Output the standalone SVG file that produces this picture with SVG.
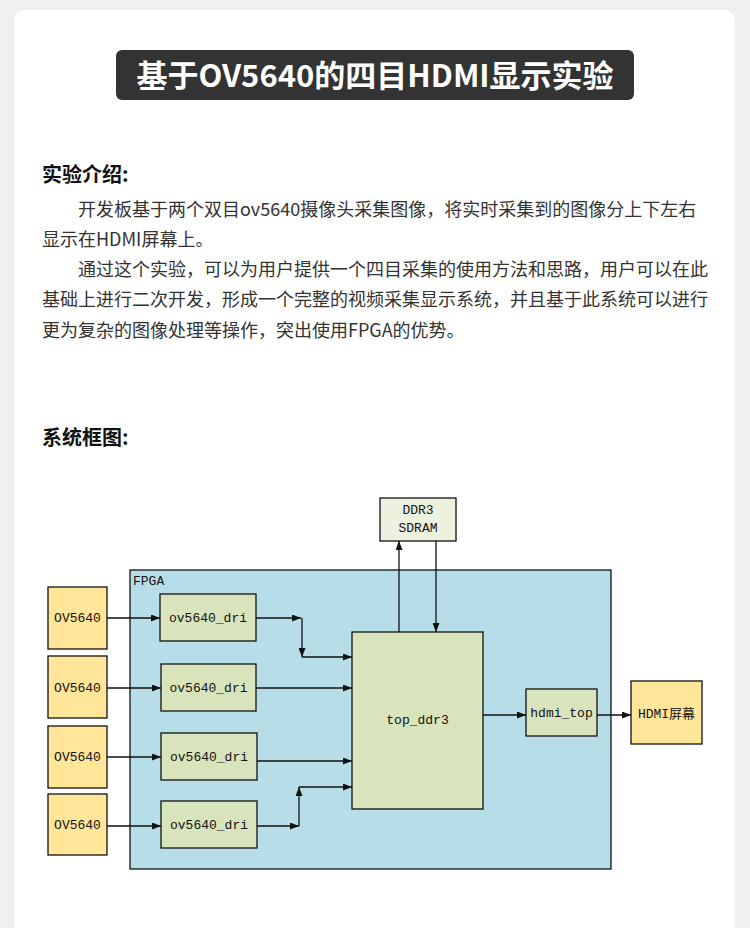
<svg xmlns="http://www.w3.org/2000/svg" width="750" height="928" viewBox="0 0 750 928">
<style>
.t{font-family:"Noto Sans CJK SC","Noto Sans",sans-serif}
.h{font-family:"Noto Sans CJK SC",sans-serif;font-weight:bold;font-size:20px;fill:#111}
.p{font-family:"Noto Sans CJK SC",sans-serif;font-size:18px;fill:#333}
.box{stroke:#111;stroke-width:1.3}
.ov{fill:#ffe699}
.gr{fill:#d8e4bc}
.lb{font-family:"Liberation Mono","Noto Sans CJK SC",monospace;font-size:13px;fill:#111;text-anchor:middle}
.ln{fill:none;stroke:#111;stroke-width:1.3}
</style>
<defs>
<marker id="a" markerWidth="9" markerHeight="7" refX="9" refY="3.5" orient="auto" markerUnits="userSpaceOnUse">
<path d="M0,0 L9,3.5 L0,7 z" fill="#111"/>
</marker>
</defs>
<rect width="750" height="928" fill="#efefef"/>
<rect x="14" y="10" width="721" height="940" rx="10" fill="#ffffff"/>
<g id="title">
<rect x="116" y="50" width="518" height="50" rx="6" fill="#333333"/>
<text x="375" y="87" text-anchor="middle" class="t" font-size="31" font-weight="bold" fill="#ffffff">基于OV5640的四目HDMI显示实验</text>
</g>
<g id="intro">
<text x="42" y="182" class="h">实验介绍:</text>
<text x="78" y="216" class="p">开发板基于两个双目ov5640摄像头采集图像，将实时采集到的图像分上下左右</text>
<text x="42" y="246" class="p">显示在HDMI屏幕上。</text>
<text x="78" y="276" class="p">通过这个实验，可以为用户提供一个四目采集的使用方法和思路，用户可以在此</text>
<text x="42" y="306" class="p">基础上进行二次开发，形成一个完整的视频采集显示系统，并且基于此系统可以进行</text>
<text x="42" y="337" class="p">更为复杂的图像处理等操作，突出使用FPGA的优势。</text>
<text x="42" y="445" class="h">系统框图:</text>
</g>
<g id="fpga">
<rect x="130" y="570" width="481" height="299" fill="#b7dde8" class="box"/>
<text x="133" y="585" font-family="Liberation Mono,monospace" font-size="13" fill="#111">FPGA</text>
</g>
<g id="ddr3">
<rect x="380" y="498" width="76" height="43" fill="#eef1de" class="box"/>
<text x="418" y="514" class="lb">DDR3</text>
<text x="418" y="532" class="lb">SDRAM</text>
</g>
<g id="ov1"><rect x="48" y="587" width="59" height="62" class="box ov"/><text x="77.5" y="622" class="lb">OV5640</text></g>
<g id="ov2"><rect x="48" y="656" width="59" height="62" class="box ov"/><text x="77.5" y="692" class="lb">OV5640</text></g>
<g id="ov3"><rect x="48" y="726" width="59" height="62" class="box ov"/><text x="77.5" y="761" class="lb">OV5640</text></g>
<g id="ov4"><rect x="48" y="794" width="59" height="61" class="box ov"/><text x="77.5" y="829" class="lb">OV5640</text></g>
<g id="dri1"><rect x="160" y="594" width="96" height="47" class="box gr"/><text x="208" y="622" class="lb">ov5640_dri</text></g>
<g id="dri2"><rect x="161" y="664" width="95" height="47" class="box gr"/><text x="208.5" y="692" class="lb">ov5640_dri</text></g>
<g id="dri3"><rect x="161" y="733" width="96" height="47" class="box gr"/><text x="209" y="761" class="lb">ov5640_dri</text></g>
<g id="dri4"><rect x="161" y="801" width="96" height="47" class="box gr"/><text x="209" y="829" class="lb">ov5640_dri</text></g>
<g id="top_ddr3"><rect x="352" y="632" width="131" height="177" class="box gr"/><text x="417.5" y="724" class="lb">top_ddr3</text></g>
<g id="hdmi_top"><rect x="526" y="689" width="71" height="47" class="box gr"/><text x="561.5" y="717" class="lb">hdmi_top</text></g>
<g id="hdmi"><rect x="631" y="681" width="71" height="63" class="box ov"/><text x="666.5" y="718" class="lb" font-size="15">HDMI屏幕</text></g>
<g id="connectors">
<path d="M107,618 H160" class="ln" marker-end="url(#a)"/>
<path d="M107,688 H161" class="ln" marker-end="url(#a)"/>
<path d="M107,757 H161" class="ln" marker-end="url(#a)"/>
<path d="M107,826 H161" class="ln" marker-end="url(#a)"/>
<path d="M256,618 H301" class="ln" marker-end="url(#a)"/>
<path d="M302,618 V657" class="ln" marker-end="url(#a)"/>
<path d="M302,657 H352" class="ln" marker-end="url(#a)"/>
<path d="M256,688 H352" class="ln" marker-end="url(#a)"/>
<path d="M257,761 H352" class="ln" marker-end="url(#a)"/>
<path d="M257,826 H299" class="ln" marker-end="url(#a)"/>
<path d="M299,826 V787" class="ln" marker-end="url(#a)"/>
<path d="M299,787 H352" class="ln" marker-end="url(#a)"/>
<path d="M483,715 H526" class="ln" marker-end="url(#a)"/>
<path d="M597,715 H631" class="ln" marker-end="url(#a)"/>
<path d="M399,632 V541" class="ln" marker-end="url(#a)"/>
<path d="M436,541 V632" class="ln" marker-end="url(#a)"/>
</g>
</svg>
